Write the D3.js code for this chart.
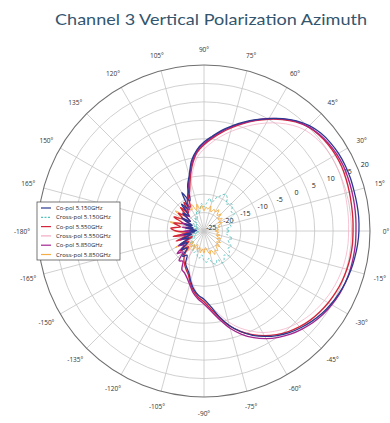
<!DOCTYPE html>
<html>
<head>
<meta charset="utf-8">
<script src="https://cdn.jsdelivr.net/npm/d3@7"></script>
<style>
  html, body { margin: 0; padding: 0; background: #fff; }
  svg { display: block; }
</style>
</head>
<body>
<svg id="chart" width="390" height="423"></svg>
<script>
// Azimuth angles in degrees (counter-clockwise from 0° at the right)
const angles = [-180,-175,-170,-165,-160,-155,-150,-145,-140,-135,-130,-125,-120,-115,-110,-105,-100,-95,-90,-85,-80,-75,-70,-65,-60,-55,-50,-45,-40,-35,-30,-25,-20,-15,-10,-5,
  0,5,10,15,20,25,30,35,40,45,50,55,60,65,70,75,80,85,90,95,100,105,110,115,120,125,130,135,140,145,150,155,160,165,170,175];

// Gain in dB for each series, one value per angle above
const coPol5150 = [-21.0,-22.5,-19.5,-21.5,-18.5,-20.5,-17.5,-19.5,-17.0,-18.5,-16.0,-17.0,-15.0,-14.0,-13.0,-11.0,-9.0,-7.5,-6.5,-4.5,-1.5,1.5,4.0,6.2,8.0,9.6,11.0,12.1,13.1,14.0,14.7,15.3,15.8,16.2,16.5,16.8,
  17.0,17.1,17.1,17.1,17.2,17.2,17.1,16.8,16.3,15.4,14.0,12.2,10.2,8.3,6.4,4.5,2.7,0.8,-0.9,-2.9,-5.6,-9.5,-12.0,-16.0,-13.0,-17.5,-15.5,-19.0,-17.5,-20.5,-18.0,-21.5,-19.5,-22.0,-20.0,-23.0];

const crossPol5150 = [-22,-23.5,-21.5,-23,-21,-22.5,-20.5,-22,-20,-21,-19.5,-20.5,-19,-18.5,-19.5,-18,-17.5,-18.5,-17,-16.5,-17.5,-16,-15.5,-16.5,-15,-15.5,-16.5,-15.5,-16,-17,-16.5,-17.5,-18,-17,-18.5,-19,
  -18,-19,-17.5,-18,-16.5,-17,-15.5,-16,-15,-14.5,-15.5,-14,-13.5,-14.5,-15.5,-17,-16,-17.5,-18.5,-17.5,-19,-20,-19,-20.5,-21.5,-20.5,-22,-21,-22.5,-21.5,-23,-22,-23.5,-22.5,-23,-22.5];

const coPol5550 = [-17.5,-21.0,-16.5,-20.0,-17.0,-21.5,-18.0,-20.0,-16.5,-19.0,-17.0,-15.5,-14.5,-13.5,-12.5,-10.5,-8.5,-7.0,-5.8,-3.8,-1.2,1.6,4.0,6.0,7.8,9.3,10.6,11.7,12.6,13.3,13.9,14.4,14.8,15.1,15.3,15.4,
  15.4,15.5,15.6,15.8,16.0,16.2,16.2,16.0,15.6,14.9,13.6,11.9,10.0,8.0,6.0,4.0,2.1,0.2,-1.6,-3.6,-6.8,-10.5,-13.5,-15.0,-17.5,-15.5,-18.5,-16.0,-19.0,-16.5,-18.5,-16.0,-19.0,-16.5,-18.5,-16.0];

const crossPol5550 = [-21,-22.5,-20,-22,-19.5,-21,-19,-20.5,-18.5,-20,-18,-19,-17,-15.5,-13.5,-11.5,-9.5,-7.5,-6.5,-4.6,-2.3,0.5,2.9,4.9,6.8,8.2,9.5,10.5,11.4,12.1,12.7,13.2,13.6,13.9,14.1,14.2,
  14.2,14.3,14.4,14.6,14.8,15.0,15.0,14.8,14.4,13.7,12.4,10.7,8.8,6.8,4.8,2.9,1.0,-0.9,-2.8,-4.8,-8.0,-11.5,-14.5,-16.0,-17.5,-18.5,-17.5,-19.5,-18.5,-20.5,-19.5,-21.0,-20.0,-21.5,-20.5,-22.0];

const coPol5850 = [-19.5,-21.5,-18.5,-21.0,-18.0,-20.0,-17.0,-18.5,-15.5,-17.0,-14.5,-15.0,-13.0,-12.5,-11.5,-10.0,-8.0,-6.5,-5.2,-3.2,-0.6,2.3,4.8,6.9,8.7,10.2,11.5,12.6,13.6,14.4,15.0,15.5,15.8,16.0,16.1,16.2,
  16.2,16.3,16.4,16.5,16.6,16.7,16.6,16.3,15.8,15.0,13.8,12.1,10.2,8.2,6.2,4.3,2.4,0.5,-1.3,-3.2,-6.2,-9.8,-12.5,-14.5,-16.0,-18.0,-16.5,-19.5,-17.5,-20.5,-18.0,-21.0,-18.5,-21.5,-19.0,-22.0];

const crossPol5850 = [-17,-20,-16.5,-21,-17.5,-20.5,-16,-19.5,-17.5,-21,-18,-20.5,-19,-21,-19.5,-20.5,-19,-20,-19,-20.5,-19.5,-18.5,-19.5,-18,-19,-18.5,-20,-19,-20.5,-19.5,-21,-20,-21.5,-20.5,-21.5,-21,
  -22,-21,-21.5,-20.5,-21,-19.5,-20.5,-19,-20,-18.5,-19.5,-18,-19,-18.5,-19.5,-18,-19,-18.5,-19.5,-18,-19,-17.5,-19,-17,-18.5,-16.5,-18,-16,-18.5,-15.5,-18,-16,-19,-15.5,-18.5,-16.5];

const seriesNames = ["Co-pol 5.150GHz","Cross-pol 5.150GHz","Co-pol 5.550GHz","Cross-pol 5.550GHz","Co-pol 5.850GHz","Cross-pol 5.850GHz"];

// Radial (dB) ring ticks and angular ticks
const ringTicks = [-25,-20,-15,-10,-5,0,5,10,15,20];
const angleTicks = [0,15,30,45,60,75,90,105,120,135,150,165,180,-165,-150,-135,-120,-105,-90,-75,-60,-45,-30,-15];
const angleTickLabels = ["0°","15°","30°","45°","60°","75°","90°","105°","120°","135°","150°","165°","-180°","-165°","-150°","-135°","-120°","-105°","-90°","-75°","-60°","-45°","-30°","-15°"];

const titleText = "Channel 3 Vertical Polarization Azimuth";

// ---- layout ----
const svg = d3.select("#chart");
const cx = 204, cy = 231, R = 166;

const r = d3.scaleLinear().domain([ringTicks[0], ringTicks[ringTicks.length - 1]]).range([0, R]);
// math angle (deg, CCW from east) -> d3 radial angle (rad, CW from north)
const toRad = deg => (90 - deg) * Math.PI / 180;

svg.append("text")
  .attr("x", 211).attr("y", 25)
  .attr("text-anchor", "middle")
  .attr("font-family", "Lato, 'Open Sans', sans-serif")
  .attr("font-size", 16)
  .attr("fill", "#33566e")
  .attr("textLength", 312)
  .attr("lengthAdjust", "spacingAndGlyphs")
  .text(titleText);

const g = svg.append("g").attr("transform", `translate(${cx},${cy})`);

// grid rings
g.selectAll("circle.ring")
  .data(ringTicks.slice(1, -1))
  .join("circle")
  .attr("class", "ring")
  .attr("r", d => r(d))
  .attr("fill", "none")
  .attr("stroke", "#c4c4c4")
  .attr("stroke-width", 0.8);

// spokes every 15°
g.selectAll("line.spoke")
  .data(angleTicks)
  .join("line")
  .attr("class", "spoke")
  .attr("x1", 0).attr("y1", 0)
  .attr("x2", d => R * Math.cos(d * Math.PI / 180))
  .attr("y2", d => -R * Math.sin(d * Math.PI / 180))
  .attr("stroke", "#c4c4c4")
  .attr("stroke-width", 0.8);

// outer boundary
g.append("circle")
  .attr("r", R)
  .attr("fill", "none")
  .attr("stroke", "#6f6f6f")
  .attr("stroke-width", 1.1);

// angle labels
g.selectAll("text.ang")
  .data(angleTicks)
  .join("text")
  .attr("class", "ang")
  .attr("x", d => 182 * Math.cos(d * Math.PI / 180))
  .attr("y", d => -182 * Math.sin(d * Math.PI / 180))
  .attr("text-anchor", "middle")
  .attr("dominant-baseline", "central")
  .attr("font-family", "'Open Sans', sans-serif")
  .attr("font-size", 6.5)
  .attr("fill", "#333")
  .text((d, i) => angleTickLabels[i]);

// dB labels along a ray
const labelAngle = 22.5 * Math.PI / 180;
g.selectAll("text.db")
  .data(ringTicks)
  .join("text")
  .attr("class", "db")
  .attr("x", d => (r(d) + 8) * Math.cos(labelAngle))
  .attr("y", d => -(r(d) + 8) * Math.sin(labelAngle))
  .attr("text-anchor", "middle")
  .attr("dominant-baseline", "central")
  .attr("font-family", "'Open Sans', sans-serif")
  .attr("font-size", 7)
  .attr("fill", "#222")
  .text(d => d);

// pattern traces
const series = [
  { name: seriesNames[1], values: crossPol5150, color: "#56c3c0", width: 1.0, dash: "2.5,1.8", opacity: 0.95 },
  { name: seriesNames[3], values: crossPol5550, color: "#f3a9c2", width: 1.0, dash: null, opacity: 0.7 },
  { name: seriesNames[5], values: crossPol5850, color: "#f5ad45", width: 1.0, dash: null, opacity: 0.95 },
  { name: seriesNames[2], values: coPol5550, color: "#d4263a", width: 1.4, dash: null, opacity: 1 },
  { name: seriesNames[4], values: coPol5850, color: "#a3278f", width: 1.4, dash: null, opacity: 1 },
  { name: seriesNames[0], values: coPol5150, color: "#2b3a8f", width: 1.3, dash: null, opacity: 1 }
];

const radial = d3.lineRadial()
  .angle(d => toRad(d[0]))
  .radius(d => r(d[1]))
  .curve(d3.curveCatmullRomClosed.alpha(0.5));

g.selectAll("path.trace")
  .data(series)
  .join("path")
  .attr("class", "trace")
  .attr("d", s => radial(angles.map((a, i) => [a, s.values[i]])))
  .attr("fill", "none")
  .attr("stroke", s => s.color)
  .attr("stroke-width", s => s.width)
  .attr("stroke-dasharray", s => s.dash)
  .attr("stroke-opacity", s => s.opacity)
  .attr("stroke-linejoin", "round");

// legend
const legendOrder = [
  { name: seriesNames[0], color: "#2b3a8f", dash: null },
  { name: seriesNames[1], color: "#56c3c0", dash: "2,1.5" },
  { name: seriesNames[2], color: "#d4263a", dash: null },
  { name: seriesNames[3], color: "#f3a9c2", dash: null },
  { name: seriesNames[4], color: "#a3278f", dash: null },
  { name: seriesNames[5], color: "#f5ad45", dash: null }
];
const lg = svg.append("g").attr("transform", "translate(37,202)");
lg.append("rect")
  .attr("width", 83).attr("height", 58)
  .attr("fill", "#fff")
  .attr("stroke", "#555")
  .attr("stroke-width", 0.8);
const rows = lg.selectAll("g.row")
  .data(legendOrder)
  .join("g")
  .attr("class", "row")
  .attr("transform", (d, i) => `translate(0,${6 + i * 9.3})`);
rows.append("line")
  .attr("x1", 4).attr("x2", 14)
  .attr("stroke", d => d.color)
  .attr("stroke-width", 1.2)
  .attr("stroke-dasharray", d => d.dash);
rows.append("text")
  .attr("x", 19)
  .attr("dominant-baseline", "central")
  .attr("font-family", "'Open Sans', sans-serif")
  .attr("font-size", 6)
  .attr("fill", "#222")
  .text(d => d.name);
</script>
</body>
</html>
